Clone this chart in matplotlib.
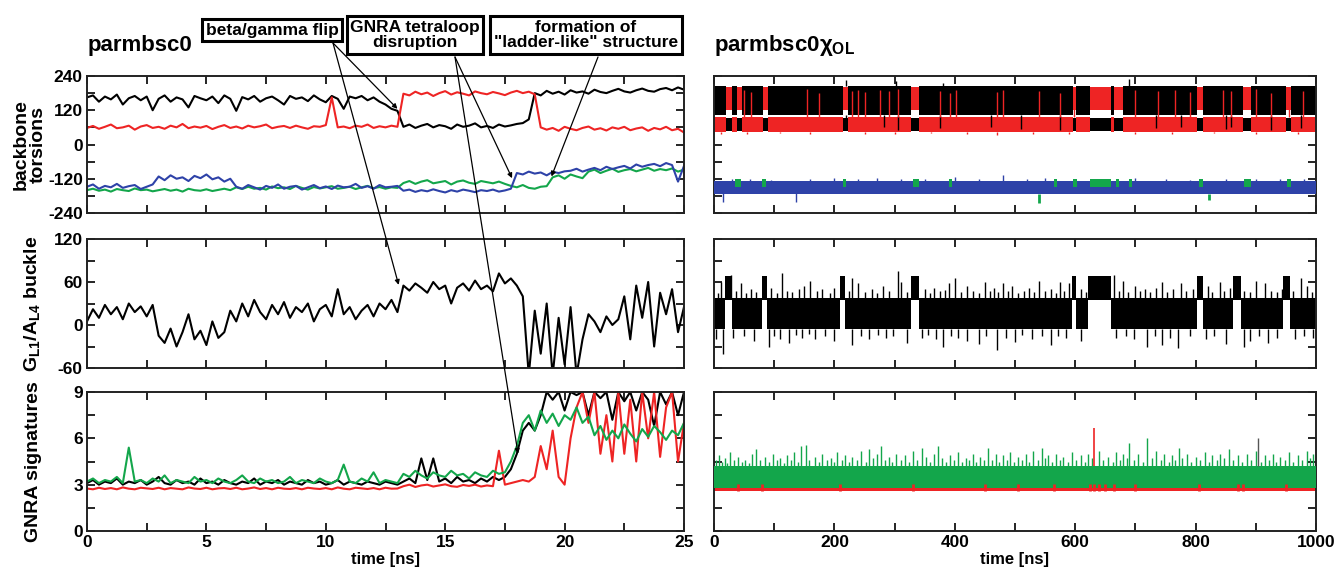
import matplotlib
matplotlib.use('Agg')
import matplotlib.pyplot as plt
from matplotlib.ticker import MultipleLocator
from matplotlib.patches import ConnectionPatch
import numpy as np

plt.rcParams['font.family'] = ['Liberation Sans', 'DejaVu Sans']
plt.rcParams['font.weight'] = 'bold'
plt.rcParams['axes.labelweight'] = 'bold'
plt.rcParams['axes.unicode_minus'] = False
plt.rcParams['mathtext.fontset'] = 'custom'
plt.rcParams['mathtext.rm'] = 'Liberation Sans:bold'
plt.rcParams['mathtext.it'] = 'Liberation Sans:bold'
plt.rcParams['mathtext.bf'] = 'Liberation Sans:bold'

BLACK = '#000000'
RED = '#ee2424'
BLUE = '#2e42a8'
GREEN = '#13a64b'

# ---------------- parmbsc0 (0-25 ns, every 0.25 ns) ----------------
t_left = np.linspace(0, 25, 101)

tors_black = [165,172,150,168,158,175,140,162,170,155,
              168,120,160,172,150,165,158,130,170,162,
              155,168,145,172,160,118,166,158,170,150,
              162,168,155,140,170,160,165,152,172,158,
              148,170,160,125,168,162,170,155,165,150,
              140,125,118,
              62,70,58,66,72,60,68,64,55,70,62,66,74,60,65,58,70,63,67,72,75,88,
              180,172,188,178,185,175,190,182,186,178,192,184,180,188,195,186,182,190,196,188,
              185,194,198,190,200,192]
tors_red = [58,65,55,62,70,57,60,66,52,63,
            68,58,62,55,66,60,72,57,63,59,
            65,54,62,68,58,63,56,66,60,64,
            70,57,62,65,58,66,60,55,64,62,
            68,165,60,63,57,66,62,70,58,64,
            60,66,62,
            178,172,185,176,182,170,180,187,175,183,178,172,186,180,176,184,179,173,182,188,
            180,185,176,
            60,52,58,48,62,55,50,58,63,52,57,49,60,55,62,50,56,60,48,58,53,62,50,55,42]
tors_blue = [-148,-140,-155,-145,-150,-138,-152,-146,-142,-156,-148,-140,
             -112,-125,-108,-120,-115,-128,-110,-118,-105,-122,-115,-130,-120,
             -148,-155,-142,-150,-158,-145,-152,-140,-155,-148,-145,-158,-150,-142,
             -153,-147,-156,-144,-150,-148,-138,-152,-146,-155,-142,-150,-148,-145,
             -162,-158,-166,-160,-164,-157,-163,-168,-160,-165,-158,-162,-167,-160,
             -163,-158,-165,-161,-155,
             -100,-105,-95,-102,-98,-108,-96,-100,-94,
             -92,-85,-95,-88,-82,-90,-78,-86,-80,-75,-84,-70,-78,-72,-68,-76,-65,-72,-130,-75]
tors_green = [-160,-155,-162,-158,-165,-156,-160,-163,-154,-160,
              -158,-164,-160,-156,-162,-158,-165,-155,-160,-162,
              -157,-163,-159,-155,-160,-150,-156,-148,-155,-152,
              -158,-147,-153,-150,-156,-145,-152,-158,-149,-154,
              -150,-146,-155,-152,-148,-156,-150,-145,-153,-149,
              -155,-150,-152,
              -135,-128,-138,-130,-125,-136,-132,-128,-140,-130,-126,-134,-138,-128,
              -132,-136,-130,-138,
              -145,-150,-142,-152,-155,-148,-146,
              -115,-108,-120,-105,-112,-118,
              -95,-88,-100,-92,-85,-96,-90,-86,-94,-88,-82,-92,-86,-90,-84,-95,-88]

buckle = [5,22,10,28,15,25,8,30,18,26,12,28,
          -15,-25,-5,-30,-10,15,-20,-8,-28,5,-18,-10,
          20,5,30,12,35,18,8,28,15,32,10,25,18,30,5,22,28,12,50,15,25,8,20,28,12,30,22,35,18,
          55,48,58,52,45,60,50,55,30,52,58,48,62,50,55,47,72,58,65,55,40,
          -70,20,-40,30,-70,10,-55,25,-70,-20,15,
          5,-10,12,0,8,
          40,-20,55,10,60,-30,45,15,50,-10,25]

gnra_black = [3.1,3.3,3.0,3.2,3.1,3.4,3.0,3.2,3.1,3.3,
              3.0,3.2,3.5,3.1,3.0,3.3,3.1,3.2,3.0,3.4,
              3.1,3.2,3.0,3.3,3.1,3.0,3.2,3.1,3.4,3.0,
              3.2,3.1,3.3,3.0,3.2,3.1,3.0,3.3,3.1,3.2,
              3.0,3.1,3.3,3.0,3.2,3.1,3.0,3.2,3.1,3.0,
              3.2,3.1,3.0,
              3.2,3.4,3.1,4.7,3.3,4.7,3.2,3.4,3.1,3.5,3.2,3.3,3.1,3.4,3.2,3.5,3.3,
              3.5,4.0,5.0,6.5,7.0,6.5,7.5,
              9,8.5,9,7.8,9,8.8,9,7.5,9,8.6,9,7.2,9,8.4,9,7.8,9,8.5,6.8,9,8.2,9,7.5,9]
gnra_red = [2.75,2.7,2.8,2.72,2.78,2.7,2.82,2.74,2.7,2.8,
            2.76,2.72,2.8,2.7,2.78,2.74,2.7,2.82,2.75,2.72,
            2.8,2.7,2.76,2.78,2.72,2.8,2.7,2.75,2.82,2.72,
            2.78,2.7,2.8,2.74,2.72,2.78,2.7,2.8,2.75,2.72,
            2.78,2.7,2.82,2.74,2.7,2.8,2.76,2.72,2.78,2.7,
            2.8,2.74,2.75,
            2.9,3.0,2.85,2.95,3.0,2.88,2.95,3.02,2.9,2.86,2.98,2.92,3.0,2.88,2.95,2.9,
            5.2,
            3.0,3.1,3.2,3.3,3.2,3.5,
            5.5,4.0,6.5,3.5,3.0,6.0,8.0,9,7,9,5,7.5,4.5,9,5.0,8.5,4.5,9,6,9,4.8,8,9,4.5,7]
gnra_green = [3.2,3.4,3.1,3.3,3.2,3.5,3.1,5.4,3.2,3.3,
              3.1,3.4,3.2,3.6,3.1,3.3,3.2,3.1,3.5,3.2,
              3.3,3.1,3.4,3.2,3.1,3.3,3.6,3.2,3.1,3.4,
              3.2,3.3,3.1,3.2,3.5,3.1,3.3,3.2,3.1,3.4,
              3.2,3.1,3.3,4.3,3.2,3.1,3.4,3.2,3.8,3.1,
              3.3,3.2,3.1,
              3.7,3.5,3.9,3.6,3.4,3.8,3.6,3.5,3.9,3.6,3.7,3.4,3.8,3.6,3.5,3.9,3.7,
              3.8,4.5,5.5,7.0,7.5,6.5,7.8,7.0,7.6,6.8,7.5,7.2,8.0,7.0,7.4,
              6.2,6.8,5.9,6.5,6.0,6.9,6.3,5.8,6.6,6.1,6.8,6.4,5.9,6.5,6.2,7.0]

# ---------------- parmbsc0chiOL (0-1000 ns): dense traces drawn as bands + spikes ----------------
# torsions
rt_black_hi = (104, 204)
rt_black_lo = (48, 92)
rt_red_lo = (44, 97)
rt_red_hi = (122, 200)
rt_swaps = [(20, 30), (38, 46), (82, 90), (214, 222), (328, 340), (596, 602),
            (624, 660), (664, 680), (803, 812), (878, 892), (950, 958)]
rt_red_spk = [(50,190),(62,185),(155,195),(175,180),(230,188),(240,192),(250,183),
              (275,190),(290,186),(305,194),(375,188),(392,180),(402,192),(470,185),
              (480,190),(540,188),(575,182),(598,195),(700,190),(738,186),(765,192),
              (790,184),(845,190),(858,188),(900,194),(925,182),(955,190),(978,186)]
rt_red_rag = [(12,38),(55,36),(110,40),(160,37),(250,38),(300,36),(360,40),(420,37),
              (470,35),(530,38),(590,37),(700,38),(760,36),(830,39),(900,37),(970,38)]
rt_black_spk = [(220,55),(282,60),(305,52),(375,58),(460,62),(510,55),(575,50),
                (735,58),(775,60),(850,55),(858,62),(925,52),(975,58)]
rt_black_up = [(220,225),(303,222),(380,216),(690,228)]
rt_blue = (-174, -128)
rt_green = (-171, -136)
rt_green_blobs = [(35, 45), (80, 86), (215, 220), (330, 340), (390, 395), (565, 570),
                  (597, 603), (625, 660), (668, 672), (690, 695), (805, 812), (880, 892), (952, 958)]
rt_green_blob_y = (-150, -120)
rt_green_spk = [(540,-205),(822,-195)]
rt_blue_rag = [(15,-200),(30,-122),(60,-120),(95,-124),(137,-200),(160,-121),(200,-119),
               (240,-122),(270,-118),(310,-121),(350,-120),(400,-115),(440,-121),(480,-108),
               (520,-121),(550,-118),(600,-120),(640,-122),(700,-119),(750,-121),(790,-123),
               (850,-120),(900,-121),(940,-122),(980,-120)]

# buckle
mr_band = (-5, 38)
mr_high = (35, 68)
mr_hi_int = [(18, 30), (80, 88), (210, 218), (328, 340), (594, 602), (622, 660),
             (803, 812), (862, 875), (946, 956)]
mr_up = [(6,45),(12,60),(28,70),(36,48),(45,58),(53,44),(62,50),(70,46),(95,52),(104,44),
         (113,72),(121,48),(130,46),(142,50),(150,55),(160,62),(171,47),(180,50),(192,45),
         (200,52),(225,48),(230,65),(240,58),(251,46),(262,50),(270,44),(280,54),(291,47),
         (305,75),(310,60),(320,46),(350,50),(358,45),(366,52),(375,47),(384,49),(390,58),
         (400,66),(410,46),(420,55),(431,48),(440,45),(450,60),(458,47),(465,52),(472,46),
         (480,58),(488,47),(495,55),(505,44),(515,48),(524,52),(532,46),(540,62),(550,47),
         (560,50),(568,45),(575,60),(582,48),(590,58),(610,50),(618,46),(665,70),(672,48),
         (680,62),(688,46),(700,55),(708,47),(716,50),(725,46),(734,52),(745,60),(753,46),
         (762,50),(775,58),(784,47),(795,50),(820,55),(828,46),(840,60),(848,48),(857,52),
         (880,48),(890,46),(900,62),(915,58),(925,48),(935,46),(943,50),(962,47),(975,65),
         (985,55),(993,46)]
mr_dn = [(4,-20),(15,-40),(32,-18),(50,-15),(66,-22),(92,-30),(100,-16),(110,-20),(125,-25),
         (136,-14),(146,-18),(158,-12),(168,-20),(185,-16),(200,-22),(230,-28),(245,-15),
         (258,-20),(272,-14),(285,-18),(298,-16),(320,-25),(345,-18),(355,-14),(368,-20),
         (380,-30),(393,-16),(405,-18),(420,-22),(440,-26),(452,-15),(470,-35),(485,-18),
         (500,-24),(512,-14),(528,-20),(545,-16),(560,-28),(572,-15),(585,-18),(610,-22),
         (668,-18),(684,-15),(698,-20),(720,-30),(732,-16),(745,-28),(758,-18),(770,-32),
         (790,-16),(818,-20),(830,-15),(850,-26),(880,-30),(890,-22),(905,-15),(920,-25),
         (935,-18),(965,-20),(980,-16),(995,-18)]

# GNRA signatures
br_green = (2.8, 4.2)
br_red = (2.62, 2.82)
br_grass = [(3,4.6),(8,4.9),(13,4.5),(18,4.7),(22,4.4),(27,5.1),(33,4.6),(40,4.8),(46,4.5),
            (52,4.6),(58,4.4),(63,5.0),(70,5.3),(76,4.6),(85,4.8),(91,4.5),(98,5.0),(104,4.6),
            (110,4.7),(116,4.4),(122,4.9),(128,4.6),(133,5.1),(139,4.5),(145,5.5),(152,5.6),
            (158,4.6),(168,4.8),(174,4.5),(180,5.0),(187,4.6),(195,4.7),(200,4.5),(205,5.1),
            (212,4.6),(218,4.9),(224,4.5),(230,4.8),(238,4.6),(245,5.2),(252,4.5),(258,5.3),
            (264,4.7),(270,5.0),(278,5.5),(284,4.6),(290,4.8),(296,4.5),(302,5.0),(310,4.6),
            (318,4.9),(324,4.5),(330,5.2),(338,4.6),(345,5.4),(352,4.8),(358,4.5),(365,5.0),
            (372,5.5),(378,4.7),(385,4.5),(392,4.9),(398,4.6),(405,5.1),(412,4.5),(418,4.7),
            (424,4.6),(430,5.0),(436,4.5),(442,4.8),(448,4.6),(455,5.4),(462,4.6),(468,5.0),
            (474,4.5),(480,4.9),(486,4.6),(492,5.1),(498,4.5),(505,4.8),(512,4.6),(518,5.0),
            (524,4.5),(530,5.2),(538,4.6),(545,5.4),(550,4.7),(555,4.9),(562,4.5),(568,5.0),
            (574,4.6),(580,4.8),(588,4.5),(595,5.1),(602,4.6),(610,4.9),(616,4.5),(622,5.0),
            (628,4.7),(640,5.2),(646,4.6),(655,4.8),(662,4.5),(668,5.1),(674,4.6),(680,5.0),
            (686,4.7),(690,5.7),(698,4.6),(705,5.0),(712,4.5),(720,6.0),(727,4.7),(735,5.2),
            (742,4.6),(748,5.0),(755,4.5),(760,4.9),(766,4.6),(772,5.4),(778,4.7),(785,5.0),
            (792,4.5),(800,4.8),(808,4.6),(815,5.1),(822,4.5),(828,4.9),(835,4.6),(840,5.0),
            (848,4.7),(855,5.3),(862,4.6),(870,4.9),(877,4.5),(885,5.0),(892,4.6),(900,5.2),
            (908,4.5),(915,4.9),(922,4.6),(928,5.0),(934,4.5),(940,4.8),(948,4.6),(955,5.1),
            (962,4.5),(970,4.9),(977,4.6),(985,5.2),(990,4.7),(995,5.0)]
br_red_marks = [40, 80, 210, 330, 450, 505, 565, 625, 632, 640, 650, 665, 700, 805, 870, 878, 950]
br_red_spk = (632, 6.7)
br_black_spk = (903, 6.0)

W, H = 1337, 570
fig = plt.figure(figsize=(W / 100, H / 100), dpi=100)


def px_axes(x0, y0, x1, y1):
    return fig.add_axes([x0 / W, 1 - y1 / H, (x1 - x0) / W, (y1 - y0) / H])


rows = [(76, 213), (239, 368), (392, 531)]
axL = [px_axes(87, r[0], 684, r[1]) for r in rows]
axR = [px_axes(714, r[0], 1316, r[1]) for r in rows]

ylims = [(-240, 240), (-60, 120), (0, 9)]
ymaj = [120, 60, 3]
ymin = [60, 30, 1.5]


def style(ax, xlim, xmaj, xmin, ylim, yma, ymi, xlab, ylab):
    ax.set_xlim(*xlim)
    ax.set_ylim(*ylim)
    ax.xaxis.set_major_locator(MultipleLocator(xmaj))
    ax.xaxis.set_minor_locator(MultipleLocator(xmin))
    ax.yaxis.set_major_locator(MultipleLocator(yma))
    ax.yaxis.set_minor_locator(MultipleLocator(ymi))
    ax.tick_params(which='both', direction='in', top=True, right=True, width=1.2,
                   length=6, labelsize=12.5, pad=3)
    if not xlab:
        ax.tick_params(labelbottom=False)
    if not ylab:
        ax.tick_params(labelleft=False)
    for s in ax.spines.values():
        s.set_linewidth(1.4)
        s.set_color('#222222')


for i in range(3):
    style(axL[i], (0, 25), 5, 2.5, ylims[i], ymaj[i], ymin[i], i == 2, True)
    style(axR[i], (0, 1000), 200, 100, ylims[i], ymaj[i], ymin[i], i == 2, False)

lw = 1.5
axL[0].plot(t_left, tors_black, color=BLACK, lw=lw)
axL[0].plot(t_left, tors_red, color=RED, lw=lw)
axL[0].plot(t_left, tors_green, color=GREEN, lw=lw)
axL[0].plot(t_left, tors_blue, color=BLUE, lw=lw)
axL[1].plot(t_left, buckle, color=BLACK, lw=lw)
axL[2].plot(t_left, gnra_black, color=BLACK, lw=lw)
axL[2].plot(t_left, gnra_red, color=RED, lw=lw)
axL[2].plot(t_left, gnra_green, color=GREEN, lw=lw)


def complement(ints, t0=0, t1=1000):
    out, cur = [], t0
    for a, b in ints:
        out.append((cur, a))
        cur = b
    out.append((cur, t1))
    return out


def band(ax, ints, lohi, color, z):
    for a, b in ints:
        ax.fill_between([a, b], [lohi[0]] * 2, [lohi[1]] * 2, color=color, lw=0, zorder=z)


def spikes(ax, pairs, base, color, z, w=1.0):
    ts = [p[0] for p in pairs]
    ys = [p[1] for p in pairs]
    ax.vlines(ts, base, ys, color=color, lw=w, zorder=z)


# right top: torsions
a = axR[0]
band(a, complement(rt_swaps), rt_black_hi, BLACK, 2)
band(a, rt_swaps, rt_black_lo, BLACK, 3)
spikes(a, rt_black_up, rt_black_hi[1], BLACK, 2)
band(a, complement(rt_swaps), rt_red_lo, RED, 2)
band(a, rt_swaps, rt_red_hi, RED, 3)
spikes(a, rt_black_spk, rt_black_hi[0], BLACK, 3)
spikes(a, rt_red_spk, rt_red_lo[1], RED, 4)
spikes(a, rt_red_rag, rt_red_lo[0], RED, 2)
band(a, [(0, 1000)], rt_green, GREEN, 2)
band(a, [(0, 1000)], rt_blue, BLUE, 3)
spikes(a, rt_blue_rag, rt_blue[1] - 5, BLUE, 3)
band(a, rt_green_blobs, rt_green_blob_y, GREEN, 4)
spikes(a, rt_green_spk, rt_blue[0], GREEN, 4, w=2.0)

# right middle: buckle
a = axR[1]
band(a, complement(mr_hi_int), mr_band, BLACK, 2)
band(a, mr_hi_int, mr_high, BLACK, 2)
spikes(a, mr_up, mr_band[1], BLACK, 3)
spikes(a, mr_dn, mr_band[0], BLACK, 3)

# right bottom: GNRA signatures
a = axR[2]
band(a, [(0, 1000)], br_red, RED, 2)
band(a, [(0, 1000)], br_green, GREEN, 3)
spikes(a, br_grass, br_green[1], GREEN, 3)
a.vlines(br_red_marks, br_red[0], 3.05, color=RED, lw=2.0, zorder=4)
a.vlines([br_red_spk[0]], br_green[1], [br_red_spk[1]], color=RED, lw=1.2, zorder=4)
a.vlines([br_black_spk[0]], br_green[1], [br_black_spk[1]], color='#555555', lw=1.0, zorder=4)

# axis labels
axL[0].set_ylabel('backbone\ntorsions', fontsize=14, linespacing=0.95)
axL[1].set_ylabel(r'G$_{\rm L1}$/A$_{\rm L4}$ buckle', fontsize=14)
axL[2].set_ylabel('GNRA signatures', fontsize=14)
axL[0].yaxis.set_label_coords(-0.068, 0.5)
axL[1].yaxis.set_label_coords(-0.075, 0.5)
axL[2].yaxis.set_label_coords(-0.075, 0.5)
axL[2].set_xlabel('time [ns]', fontsize=12, labelpad=1)
axR[2].set_xlabel('time [ns]', fontsize=12, labelpad=1)

fig.text(88 / W, 1 - 46 / H, 'parmbsc0', fontsize=16, va='center', ha='left')
fig.text(714 / W, 1 - 46 / H, r'parmbsc0$\chi_{\rm OL}$', fontsize=16, va='center', ha='left')

# annotation boxes
box = dict(boxstyle='square,pad=0.2', fc='white', ec='black', lw=2.2)
fig.text(272 / W, 1 - 30 / H, 'beta/gamma flip', fontsize=12.5, ha='center', va='center',
         bbox=box, zorder=10)
fig.text(415 / W, 1 - 35 / H, 'GNRA tetraloop\ndisruption', fontsize=12.5, ha='center',
         va='center', bbox=box, linespacing=1.05, zorder=10)
fig.text(586 / W, 1 - 35 / H, 'formation of\n"ladder-like" structure', fontsize=12.5,
         ha='center', va='center', bbox=box, linespacing=1.05, zorder=10)

arrows = [((333, 43), 0, (13.0, 125)), ((333, 43), 1, (13.05, 56)),
          ((455, 57), 0, (17.8, -118)), ((455, 57), 2, (18.05, 5.0)),
          ((598, 57), 0, (19.45, -112))]
for (px, py), k, xy in arrows:
    con = ConnectionPatch(xyA=(px / W, 1 - py / H), coordsA='figure fraction',
                          xyB=xy, coordsB='data', axesB=axL[k],
                          arrowstyle='-|>', mutation_scale=7, lw=0.9, color='black')
    con.set_zorder(5)
    fig.add_artist(con)

fig.savefig('out.png', dpi=100)
